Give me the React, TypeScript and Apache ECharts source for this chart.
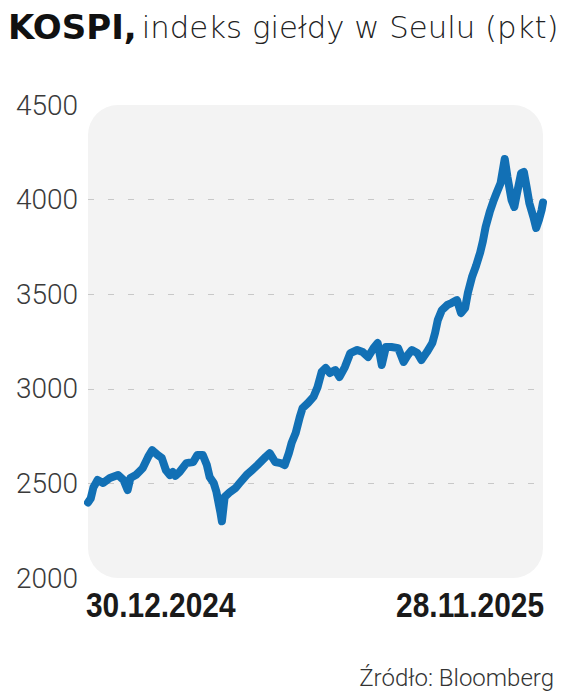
import React, { useEffect, useRef } from "react";
import * as echarts from "echarts";

// Days elapsed since 30.12.2024 (trading sessions)
const dayOffsets = [
  0, 2, 4, 6, 7, 11, 16, 22, 26, 29, 31, 35, 40, 44, 47, 51, 54, 57, 60, 62,
  64, 67, 72, 77, 80, 84, 87, 89, 92, 94, 97, 98, 100, 104, 108, 111, 116, 120,
  124, 130, 133, 137, 141, 144, 147, 149, 152, 155, 157, 161, 165, 168, 171,
  174, 177, 181, 184, 188, 192, 197, 201, 205, 209, 212, 215, 218, 222, 227,
  231, 234, 237, 241, 244, 248, 252, 254, 256, 259, 263, 266, 270, 273, 276,
  278, 281, 284, 287, 289, 291, 294, 297, 299, 302, 305, 307, 310, 312, 314,
  317, 319, 321, 323, 326, 328, 330, 332, 333,
];

// KOSPI closing values (pkt)
const kospiValues = [
  2399, 2420, 2480, 2505, 2518, 2502, 2528, 2544, 2518, 2465, 2528, 2544, 2580,
  2640, 2676, 2650, 2634, 2570, 2544, 2560, 2540, 2560, 2607, 2613, 2650, 2650,
  2597, 2534, 2502, 2455, 2343, 2300, 2428, 2455, 2476, 2502, 2544, 2570, 2597,
  2640, 2660, 2613, 2607, 2597, 2660, 2713, 2766, 2851, 2898, 2925, 2957, 3009,
  3089, 3110, 3083, 3099, 3062, 3115, 3189, 3205, 3194, 3168, 3215, 3242, 3126,
  3221, 3221, 3215, 3142, 3178, 3205, 3189, 3152, 3194, 3242, 3295, 3363, 3416,
  3443, 3453, 3469, 3400, 3427, 3506, 3590, 3650, 3720, 3780, 3855, 3934, 3998,
  4035, 4088, 4215, 4119, 3998, 3961, 4035, 4140, 4146, 4067, 3982, 3908, 3850,
  3892, 3945, 3985,
];

const xTickLabels = ["30.12.2024", "28.11.2025"];
const yTicks = [2000, 2500, 3000, 3500, 4000, 4500];

const titleBold = "KOSPI,";
const titleRest = "indeks giełdy w Seulu (pkt)";
const sourceText = "Źródło: Bloomberg";

export default function App() {
  const ref = useRef<HTMLDivElement>(null);

  useEffect(() => {
    document.body.style.margin = "0";
    if (!ref.current) return;
    const chart = echarts.init(ref.current, undefined, { renderer: "svg" });

    const lastDay = dayOffsets[dayOffsets.length - 1];
    const data = dayOffsets.map((d, i) => [d, kospiValues[i]]);

    const gridLeft = 88;
    const gridTop = 105;
    const gridRight = 21;
    const gridBottom = 116;
    const W = 564;
    const H = 694;

    const dateFont = {
      fontFamily: "'Liberation Sans', Arial, sans-serif",
      fontWeight: "bold",
      fontSize: 36,
      fill: "#1a1a1a",
      verticalAlign: "middle",
    };

    chart.setOption({
      animation: false,
      backgroundColor: "#ffffff",
      title: {
        left: 3,
        top: 5,
        text: `{a|${titleBold}} {b|${titleRest}}`,
        textStyle: {
          rich: {
            a: {
              fontFamily: "'DejaVu Sans', sans-serif",
              fontWeight: "bold",
              fontSize: 34,
              color: "#111111",
            },
            b: {
              fontFamily: "'DejaVu Sans', sans-serif",
              fontWeight: 200,
              fontSize: 30.8,
              color: "#222222",
            },
          },
        },
      },
      graphic: [
        {
          type: "rect",
          z: -10,
          silent: true,
          shape: {
            x: gridLeft,
            y: gridTop,
            width: W - gridLeft - gridRight,
            height: H - gridTop - gridBottom,
            r: 30,
          },
          style: { fill: "#f3f3f3" },
        },
        {
          type: "text",
          x: 86,
          y: 604,
          scaleX: 0.83,
          silent: true,
          style: { ...dateFont, text: xTickLabels[0], align: "left" },
        },
        {
          type: "text",
          x: 544,
          y: 604,
          scaleX: 0.83,
          silent: true,
          style: { ...dateFont, text: xTickLabels[1], align: "right" },
        },
        {
          type: "text",
          right: 10,
          top: 666,
          style: {
            text: sourceText,
            fontFamily: "Roboto, 'Liberation Sans', sans-serif",
            fontWeight: 300,
            fontSize: 24,
            fill: "#333333",
          },
        },
      ],
      grid: {
        left: gridLeft,
        right: gridRight,
        top: gridTop,
        bottom: gridBottom,
        containLabel: false,
        outerBoundsMode: "none",
      },
      xAxis: {
        type: "value",
        min: 0,
        max: lastDay,
        interval: lastDay,
        axisLine: { show: false },
        axisTick: { show: false },
        splitLine: { show: false },
        axisLabel: { show: false },
      },
      yAxis: {
        type: "value",
        min: yTicks[0],
        max: yTicks[yTicks.length - 1],
        interval: 500,
        axisLine: { show: false },
        axisTick: { show: false },
        axisLabel: {
          margin: 10,
          fontFamily: "Roboto, 'Liberation Sans', sans-serif",
          fontWeight: 300,
          fontSize: 28,
          color: "#3a3a3a",
          formatter: (v: number) => String(v),
        },
        splitLine: {
          show: true,
          showMinLine: false,
          showMaxLine: false,
          lineStyle: { color: "#c8c8c8", width: 1.2, type: [6, 14] },
        },
      },
      series: [
        {
          type: "line",
          data,
          showSymbol: false,
          symbol: "none",
          smooth: false,
          z: 5,
          lineStyle: {
            color: "#1270b5",
            width: 8,
            cap: "round",
            join: "round",
          },
        },
      ],
    });

    return () => chart.dispose();
  }, []);

  return <div ref={ref} style={{ width: 564, height: 694 }} />;
}
